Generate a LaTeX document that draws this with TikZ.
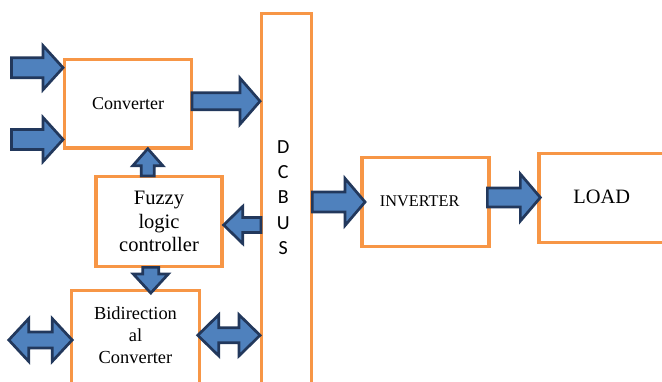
\documentclass[tikz,border=0pt]{standalone}
\usepackage{fontspec}
\setmainfont{Liberation Serif}
\newfontfamily\calib{Carlito}
\usetikzlibrary{calc}
\definecolor{boxor}{HTML}{F79646}
\definecolor{arrfill}{HTML}{4F81BD}
\definecolor{arrline}{HTML}{22385C}
\tikzset{
  blk/.style={draw=boxor, line width=3.3pt, fill=white, inner sep=0pt},
  barrow/.style={draw=arrline, fill=arrfill, line width=2.7pt, line join=miter},
}
% horizontal block arrow: start, end, body half, head half, head length
\newcommand{\harr}[5]{\draw[barrow] let \p1=(#1), \p2=(#2), \n2={\x2-ifthenelse(\x2>\x1,1,-1)*#5pt} in
  (\x1,\y1+#3pt) -- (\n2,\y1+#3pt) -- (\n2,\y1+#4pt) -- (\x2,\y1) -- (\n2,\y1-#4pt) -- (\n2,\y1-#3pt) -- (\x1,\y1-#3pt) -- cycle;}
% vertical block arrow
\newcommand{\varr}[5]{\draw[barrow] let \p1=(#1), \p2=(#2), \n2={\y2-ifthenelse(\y2>\y1,1,-1)*#5pt} in
  (\x1+#3pt,\y1) -- (\x1+#3pt,\n2) -- (\x1+#4pt,\n2) -- (\x1,\y2) -- (\x1-#4pt,\n2) -- (\x1-#3pt,\n2) -- (\x1-#3pt,\y1) -- cycle;}
% horizontal double block arrow
\newcommand{\hdarr}[5]{\draw[barrow] let \p1=(#1), \p2=(#2), \n1={\x1+ifthenelse(\x2>\x1,1,-1)*#5pt}, \n2={\x2-ifthenelse(\x2>\x1,1,-1)*#5pt} in
  (\x1,\y1) -- (\n1,\y1+#4pt) -- (\n1,\y1+#3pt) -- (\n2,\y1+#3pt) -- (\n2,\y1+#4pt) -- (\x2,\y1) -- (\n2,\y1-#4pt) -- (\n2,\y1-#3pt) -- (\n1,\y1-#3pt) -- (\n1,\y1-#4pt) -- cycle;}
\begin{document}
\begin{tikzpicture}[x=1pt,y=-1pt]
\clip (0,0) rectangle (662,381);
\fill[white] (0,0) rectangle (662,381);

% boxes
\node[blk,minimum width=126.6pt,minimum height=88.7pt,font=\fontsize{18}{21}\selectfont] (conv) at (128,103.7) {Converter};
\node[blk,minimum width=50pt,minimum height=400pt] (bus) at (286.7,213.3) {};
\node[font=\calib\fontsize{20}{25.4}\selectfont,align=center] (bustext) at (283.3,197.5) {D\\C\\B\\U\\S};
\node[blk,minimum width=126pt,minimum height=90pt,font=\fontsize{20.5}{23.5}\selectfont,align=center] (fuzzy) at (159,221.7) {Fuzzy\\logic\\controller};
\node[blk,minimum width=128pt,minimum height=120pt] (bidi) at (135.3,350.7) {};
\node[font=\fontsize{18.4}{21.7}\selectfont,align=center] (biditext) at (135.5,335.3) {Bidirection\\al\\Converter};
\node[blk,minimum width=127pt,minimum height=89.5pt] (inv) at (425.5,202) {};
\node[font=\fontsize{16.3}{19}\selectfont] (invtext) at (419.7,201.2) {INVERTER};
\node[blk,minimum width=200pt,minimum height=89pt] (load) at (639,197.8) {};
\node[font=\fontsize{20.4}{24}\selectfont] (loadtext) at (601.7,197) {LOAD};

% connector end points
\coordinate (i1) at (11.5,67.7);
\coordinate (i2) at (11.5,139.5);
\coordinate (a3) at ($(conv.east)+(-1,-2.5)$);
\coordinate (a4) at ($(fuzzy.north)+(-11.2,1)$);
\coordinate (a4e) at ($(a4 |- conv.south)+(0,-1)$);
\coordinate (a5) at ($(bus.west)+(1,11.7)$);
\coordinate (a6) at ($(fuzzy.south)+(-8.2,-1)$);
\coordinate (a6e) at ($(a6 |- bidi.north)+(0,4)$);
\coordinate (a7) at (8.8,340);
\coordinate (a7e) at ($(a7 -| bidi.west)+(2.5,0)$);
\coordinate (a8) at ($(bidi.east)+(-3.2,-15.4)$);
\coordinate (a9) at ($(bus.east)+(-1,-11.3)$);
\coordinate (a9e) at ($(a9 -| inv.west)+(4.7,0)$);
\coordinate (a10) at ($(inv.east)+(-3.3,-4.5)$);
\coordinate (a10e) at ($(a10 -| load.west)+(3,0)$);

% connectors
\harr{i1}{i1 -| conv.west}{10}{22}{20}
\harr{i2}{i2 -| conv.west}{10}{22}{20}
\harr{a3}{a3 -| bus.west}{8.5}{23}{20}
\varr{a4}{a4e}{6.5}{15}{17}
\harr{a5}{a5 -| fuzzy.east}{7.5}{18.5}{19}
\varr{a6}{a6e}{8}{17.5}{19}
\hdarr{a7}{a7e}{8}{21.5}{20}
\hdarr{a8}{a8 -| bus.west}{7.5}{20.5}{21}
\harr{a9}{a9e}{10}{23.5}{20}
\harr{a10}{a10e}{9.5}{23.5}{20}
\end{tikzpicture}
\end{document}
